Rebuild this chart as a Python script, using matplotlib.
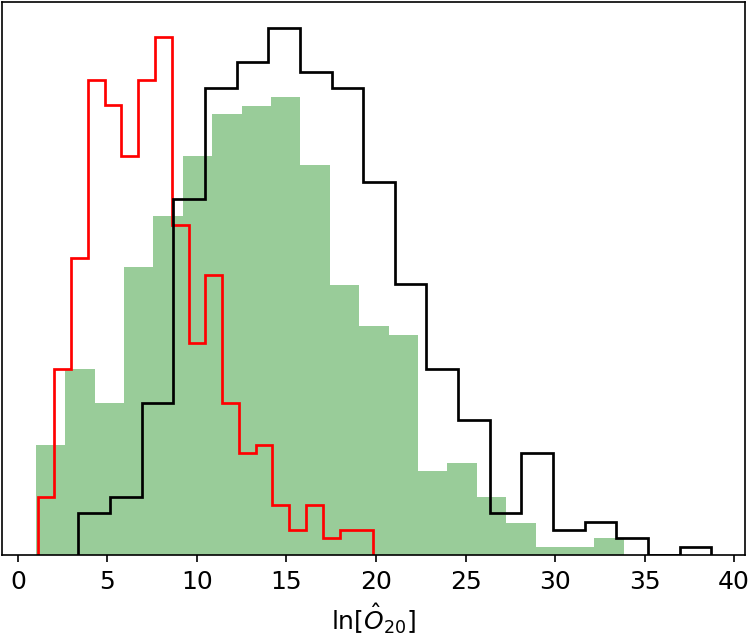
import numpy as np
import matplotlib
matplotlib.use("Agg")
import matplotlib.pyplot as plt

# bin edges
edges_green = np.linspace(1.0, 33.84, 21)
edges_red = np.linspace(1.1, 19.84, 21)
edges_black = np.linspace(3.38, 38.72, 21)

# bin heights (arbitrary count units)
h_green = [13.2, 22.4, 18.3, 34.6, 40.7, 47.9, 53.0, 54.0, 55.0, 46.9,
           32.5, 27.5, 26.4, 10.1, 11.1, 7.0, 3.9, 1.0, 1.0, 2.0]
h_red = [7.0, 22.4, 35.7, 57.1, 54.1, 48.0, 57.1, 62.3, 39.7, 25.5,
         33.6, 18.3, 12.2, 13.2, 6.0, 3.0, 6.0, 2.0, 3.0, 3.0]
h_black = [5.0, 7.0, 18.3, 42.8, 56.1, 59.2, 63.3, 58.1, 56.1, 44.8,
           32.6, 22.4, 16.2, 5.0, 12.2, 3.0, 4.0, 2.0, 0.0, 1.0]

fig = plt.figure(figsize=(5, 4.24), dpi=150)
ax = fig.add_axes([2/750, 81/636, 743/750, 553/636])

ax.hist(edges_green[:-1], bins=edges_green, weights=h_green, color='green', alpha=0.4)
ax.hist(edges_red[:-1], bins=edges_red, weights=h_red, histtype='step', color='red', lw=1.3)
ax.hist(edges_black[:-1], bins=edges_black, weights=h_black, histtype='step', color='black', lw=1.3)

ax.set_yticks([])
ax.set_xticks(np.arange(0, 41, 5))
ax.tick_params(labelsize=12)
ax.set_xlabel(r'$\ln[\hat{O}_{20}]$', fontsize=12, labelpad=3.5)

fig.savefig('out.png', dpi=150)
